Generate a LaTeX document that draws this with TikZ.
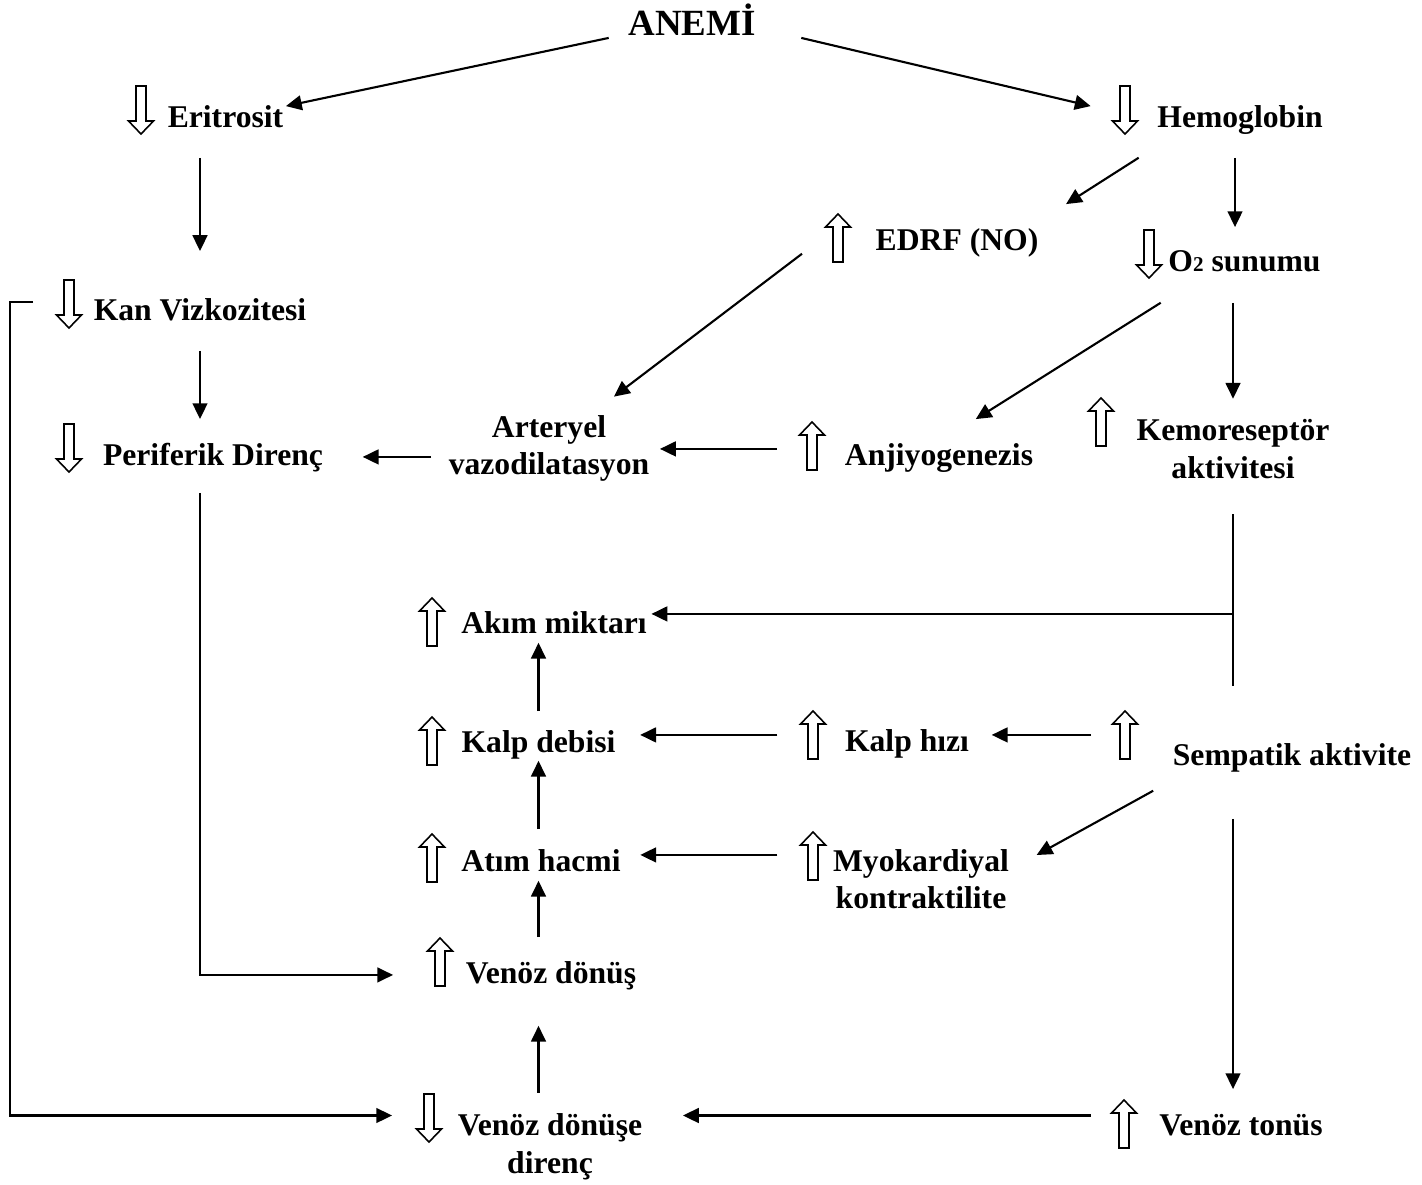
\documentclass[tikz,border=0pt]{standalone}
\usepackage{fontspec}
\setmainfont{Liberation Serif}
\usetikzlibrary{arrows.meta}

\tikzset{
    asagi/.pic={\draw[line width=0.45pt, fill=white] (-5,-24) -- (5,-24) -- (5,11) -- (12.5,11) -- (0,24) -- (-12.5,11) -- (-5,11) -- cycle;},
    yukari/.pic={\draw[line width=0.45pt, fill=white] (-5,24) -- (5,24) -- (5,-11) -- (12.5,-11) -- (0,-24) -- (-12.5,-11) -- (-5,-11) -- cycle;}
}

\begin{document}
\begin{tikzpicture}[x=0.01cm, y=-0.01cm]

    % Define style for text
    \tikzstyle{yazi} = [font=\bfseries\fontsize{9}{10.5}\selectfont, inner sep=0pt, anchor=base, text height=6.6pt, text depth=2pt]
    \tikzstyle{yazi2} = [font=\bfseries\fontsize{9}{10.7}\selectfont, inner sep=0pt, align=center]
    \tikzstyle{ok} = [-{Triangle[length=4.5pt, width=4.2pt]}, line width=0.6pt]
    \tikzstyle{cizgi} = [line width=0.6pt]

    \useasboundingbox (0,0) rectangle (1422,1184);

    % Nodes
    \node (anemi) [yazi, font=\bfseries\fontsize{10.5}{12}\selectfont] at (692,35) {ANEMİ};
    \node (eritrosit) [yazi] at (225.5,127) {Eritrosit};
    \node (hemoglobin) [yazi] at (1240,127) {Hemoglobin};
    \node (edrf) [yazi] at (957,250) {EDRF (NO)};
    \node (oksijen) [yazi] at (1244.5,271) {O{\fontsize{6}{6}\selectfont 2} sunumu};
    \node (vizkozite) [yazi] at (200,320) {Kan Vizkozitesi};
    \node (direnc) [yazi] at (213,465) {Periferik Direnç};
    \node (vazodil) [yazi2] at (549,448.5) {Arteryel\\vazodilatasyon};
    \node (anjiyo) [yazi] at (939,465) {Anjiyogenezis};
    \node (kemo) [yazi2] at (1233,449) {Kemoreseptör\\aktivitesi};
    \node (akim) [yazi] at (554,633) {Akım miktarı};
    \node (debi) [yazi] at (538.5,752) {Kalp debisi};
    \node (hiz) [yazi] at (907,751) {Kalp hızı};
    \node (sempatik) [yazi] at (1292,765) {Sempatik aktivite};
    \node (atim) [yazi] at (541,871) {Atım hacmi};
    \node (kontrak) [yazi2] at (921,879) {Myokardiyal\\kontraktilite};
    \node (donus) [yazi] at (551,983) {Venöz dönüş};
    \node (donusdir) [yazi2] at (550,1146.5) {Venöz dönüşe\\direnç};
    \node (tonus) [yazi] at (1241,1135) {Venöz tonüs};

    % Hollow arrows
    \pic at (141,110) {asagi};
    \pic at (1125,110) {asagi};
    \pic at (838,238) {yukari};
    \pic at (1149,254) {asagi};
    \pic at (69,304) {asagi};
    \pic at (69,448) {asagi};
    \pic at (812,446) {yukari};
    \pic at (1101,422) {yukari};
    \pic at (432,622) {yukari};
    \pic at (432,741) {yukari};
    \pic at (813,735) {yukari};
    \pic at (1125,735) {yukari};
    \pic at (432,858) {yukari};
    \pic at (813,856) {yukari};
    \pic at (440,962) {yukari};
    \pic at (429,1118) {asagi};
    \pic at (1124,1124) {yukari};

    % Lines
    \draw[ok] ([shift={(-19,11)}]anemi.west) -- ([shift={(2,3)}]eritrosit.north east);
    \draw[ok] ([shift={(45,11)}]anemi.east) -- ([shift={(-66,3)}]hemoglobin.north west);

    \draw[ok, shorten <=0.23cm, shorten >=0.45cm] (eritrosit.south -| vizkozite.north) -- (vizkozite.north);
    \draw[ok] ([shift={(-18,23)}]hemoglobin.south west) -- ([shift={(27,-22)}]edrf.north east);
    \draw[ok, shorten <=0.23cm, shorten >=0.2cm] ([xshift=-0.05cm]hemoglobin.south) -- ([xshift=-0.05cm]hemoglobin.south |- oksijen.north);
    \draw[ok] ([shift={(-73,-4)}]edrf.south west) -- ([shift={(-36,-18)}]vazodil.north east);
    \draw[ok] ([shift={(-7,24)}]oksijen.south west) -- ([shift={(-58,-22)}]anjiyo.north east);
    \draw[ok, shorten <=0.24cm, shorten >=0.2cm] (oksijen.south -| kemo.north) -- (kemo.north);
    \draw[ok, shorten <=0.23cm, shorten >=0.22cm] (vizkozite.south) -- (vizkozite.south |- direnc.north);
    \draw[ok, shorten <=0.17cm, shorten >=0.39cm] (vazodil.west |- direnc.east) -- (direnc.east);
    \draw[ok, shorten <=0.67cm, shorten >=0.1cm] ([yshift=0.08cm]anjiyo.west) -- ([yshift=0.08cm]anjiyo.west -| vazodil.east);

    \draw[cizgi, shorten <=0.35cm, shorten >=0.55cm] (kemo.south) -- (kemo.south |- sempatik.north);
    \draw[ok, shorten >=0.04cm] ([yshift=0.11cm]kemo.south |- akim.east) -- ([yshift=0.11cm]akim.east);

    \draw[ok, shorten <=0.67cm, shorten >=0.24cm] ([yshift=0.08cm]hiz.west) -- ([yshift=0.08cm]hiz.west -| debi.east);
    \draw[ok, shorten <=0.81cm, shorten >=0.22cm] ([yshift=0.08cm]sempatik.west |- hiz.east) -- ([yshift=0.08cm]hiz.east);
    \draw[ok] ([shift={(-19,18)}]sempatik.south west) -- ([shift={(27,-24)}]kontrak.east);
    \draw[ok, shorten <=0.55cm, shorten >=0.19cm] ([yshift=0.08cm]kontrak.west |- atim.east) -- ([yshift=0.08cm]atim.east);

    \draw[ok, shorten <=0.17cm, shorten >=0.02cm] (debi.north) -- (debi.north |- akim.south);
    \draw[ok, shorten <=0.18cm, shorten >=0.01cm] (atim.north -| debi) -- (debi.south);
    \draw[ok, shorten <=0.22cm, shorten >=0.02cm] (donus.north -| debi) -- (atim.south -| debi);
    \draw[ok, shorten >=0.35cm] ([yshift=0.2cm]donusdir.north -| debi) -- (donus.south -| debi);

    \draw[ok, shorten <=0.46cm, shorten >=0.22cm] (sempatik.south -| kemo) -- (tonus.north -| kemo);
    \draw[ok, shorten <=0.68cm, shorten >=0.4cm] ([yshift=0.31cm]donusdir.east -| tonus.west) -- ([yshift=0.31cm]donusdir.east);

    \draw[ok, shorten <=0.2cm, shorten >=0.72cm] (vizkozite.south |- direnc.south) -- (vizkozite.south |- donus.west) -- (donus.west);
    \coordinate (sol) at (10,0);
    \draw[ok, shorten <=0.6cm, shorten >=0.65cm] ([yshift=0.1cm]vizkozite.west) -- ([yshift=0.1cm]vizkozite.west -| sol) -- ([yshift=0.31cm]donusdir.west -| sol) -- ([yshift=0.31cm]donusdir.west);

\end{tikzpicture}
\end{document}
